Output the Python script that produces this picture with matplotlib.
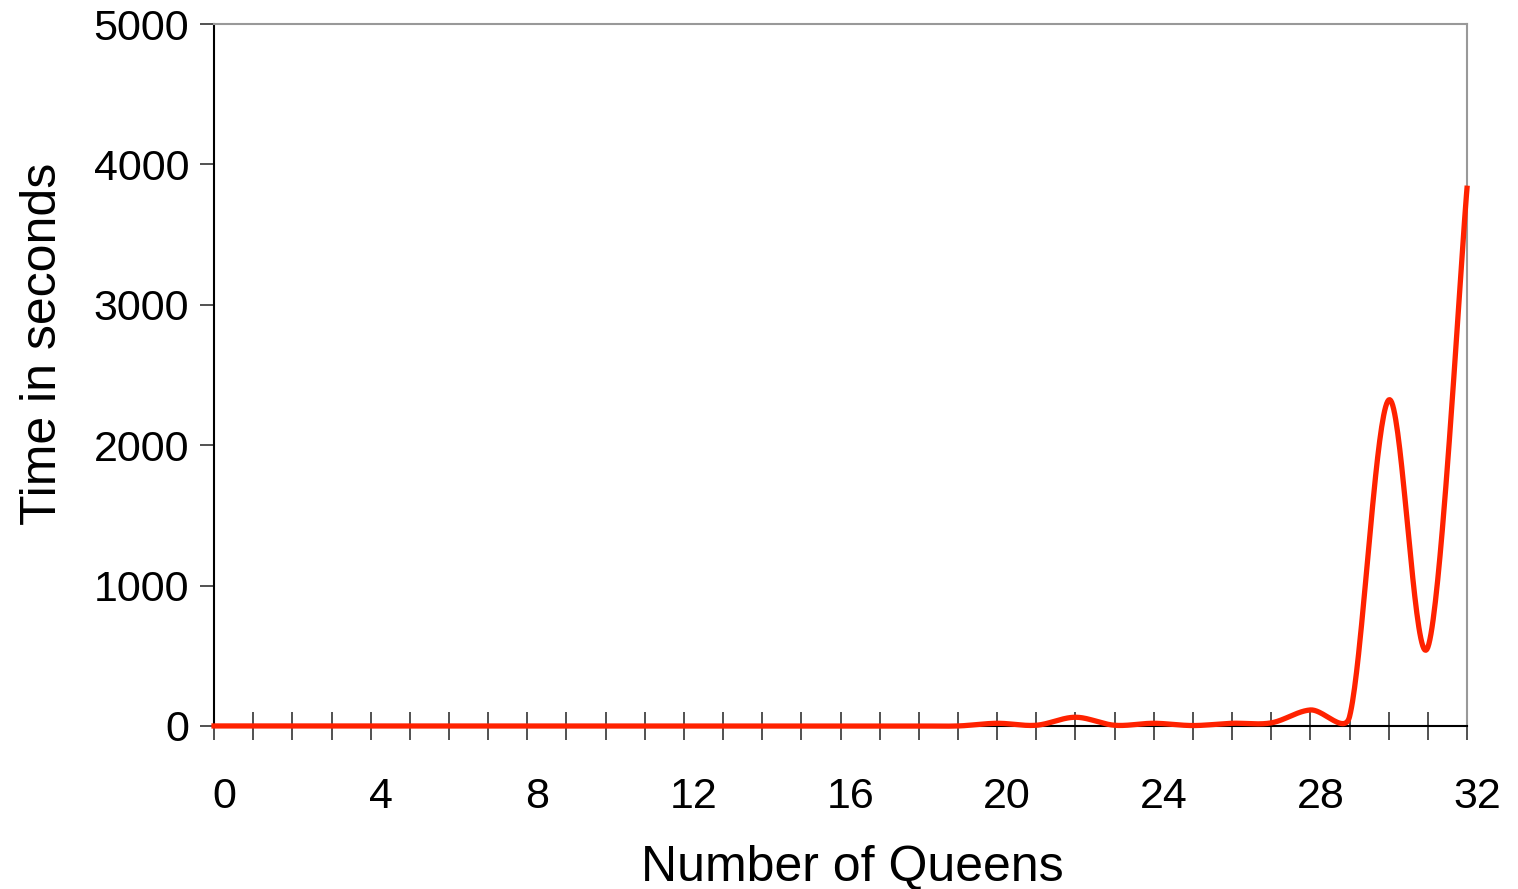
import numpy as np
import matplotlib
matplotlib.use('Agg')
import matplotlib.pyplot as plt
import matplotlib.transforms as mtransforms
from matplotlib.ticker import MultipleLocator

# 数据：皇后数量与耗时（秒）
queens = list(range(0, 33))
seconds = [0, 0, 0, 0, 0, 0, 0, 0, 0, 0,
           0, 0, 0, 0, 0, 0, 0, 0, 0, 0,
           19, 5, 62, 5, 19, 3, 19, 22, 114, 66,
           2322, 560, 3830]

x_label = "Number of Queens"
y_label = "Time in seconds"


def excel_smooth(pts, steps=40):
    """仿 Excel 平滑线：屏幕坐标下的贝塞尔曲线，控制点长度受线段长度限制"""
    pts = np.asarray(pts, float)
    n = len(pts)
    out = [pts[0]]
    t = np.linspace(0, 1, steps)[1:, None]
    for i in range(n - 1):
        p0 = pts[max(i - 1, 0)]
        p1 = pts[i]
        p2 = pts[i + 1]
        p3 = pts[min(i + 2, n - 1)]
        d12 = np.linalg.norm(p2 - p1)
        a = (p2 - p0) / 6
        b = (p3 - p1) / 6
        la, lb = np.linalg.norm(a), np.linalg.norm(b)
        if la > d12 / 2:
            a *= d12 / 2 / la
        if lb > d12 / 2:
            b *= d12 / 2 / lb
        c1 = p1 + a
        c2 = p2 - b
        seg = ((1 - t) ** 3) * p1 + 3 * ((1 - t) ** 2) * t * c1 \
            + 3 * (1 - t) * t ** 2 * c2 + t ** 3 * p2
        out.extend(seg)
    return np.array(out)


plt.rcParams['font.family'] = ['Liberation Sans', 'DejaVu Sans']

fig = plt.figure(figsize=(15.18, 8.89), dpi=100)
ax = fig.add_axes([0.141, 0.1834, 0.8254, 0.7896])
ax.set_xlim(0, 32)
ax.set_ylim(0, 5000)

# 在像素空间做平滑，再换回数据坐标
disp = ax.transData.transform(np.column_stack([queens, seconds]))
curve = ax.transData.inverted().transform(excel_smooth(disp))
ax.plot(curve[:, 0], curve[:, 1], color='#ff2200', linewidth=3.8,
        clip_on=False, zorder=3)

ax.xaxis.set_major_locator(MultipleLocator(4))
ax.xaxis.set_minor_locator(MultipleLocator(1))
ax.yaxis.set_major_locator(MultipleLocator(1000))

ax.tick_params(axis='x', which='both', direction='inout', length=20, width=1.2,
               color='#333333', labelsize=31, pad=27)
ax.tick_params(axis='y', which='major', direction='out', length=10, width=1.2,
               color='#333333', labelsize=31, pad=8)

# x 轴刻度标签略向右偏
offset = mtransforms.ScaledTranslation(10 / 100, 0, fig.dpi_scale_trans)
for lbl in ax.get_xticklabels():
    lbl.set_transform(lbl.get_transform() + offset)

ax.spines['left'].set_color('black')
ax.spines['bottom'].set_color('black')
ax.spines['top'].set_color('#999999')
ax.spines['right'].set_color('#999999')
for s in ax.spines.values():
    s.set_linewidth(1.5)

ax.set_xlabel(x_label, fontsize=36, labelpad=20)
ax.set_ylabel(y_label, fontsize=36, labelpad=20)
ax.xaxis.label.set_x(0.5 + 12 / 1253)
ax.yaxis.label.set_y(0.5 + 31 / 702)

fig.savefig('out.png', dpi=100)
plt.close()
